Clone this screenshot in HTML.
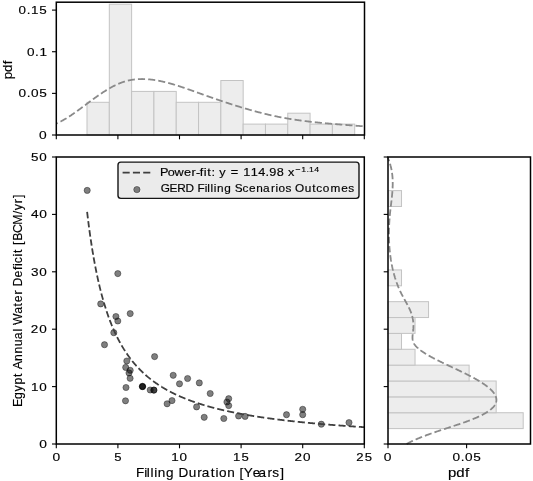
<!DOCTYPE html>
<html><head><meta charset="utf-8"><style>html,body{margin:0;padding:0;background:#fff;}svg{display:block;}</style></head>
<body>
<svg width="533" height="481" viewBox="0 0 533 481" style="will-change:transform">
<rect width="533" height="481" fill="#fff"/>
<rect x="87.00" y="102.30" width="22.31" height="32.70" fill="#ededed" stroke="#c3c3c3" stroke-width="1"/>
<rect x="109.31" y="4.20" width="22.31" height="130.80" fill="#ededed" stroke="#c3c3c3" stroke-width="1"/>
<rect x="131.62" y="91.40" width="22.31" height="43.60" fill="#ededed" stroke="#c3c3c3" stroke-width="1"/>
<rect x="153.93" y="91.40" width="22.31" height="43.60" fill="#ededed" stroke="#c3c3c3" stroke-width="1"/>
<rect x="176.23" y="102.30" width="22.31" height="32.70" fill="#ededed" stroke="#c3c3c3" stroke-width="1"/>
<rect x="198.54" y="102.30" width="22.31" height="32.70" fill="#ededed" stroke="#c3c3c3" stroke-width="1"/>
<rect x="220.85" y="80.50" width="22.31" height="54.50" fill="#ededed" stroke="#c3c3c3" stroke-width="1"/>
<rect x="243.16" y="124.10" width="22.31" height="10.90" fill="#ededed" stroke="#c3c3c3" stroke-width="1"/>
<rect x="265.47" y="124.10" width="22.31" height="10.90" fill="#ededed" stroke="#c3c3c3" stroke-width="1"/>
<rect x="287.77" y="113.20" width="22.31" height="21.80" fill="#ededed" stroke="#c3c3c3" stroke-width="1"/>
<rect x="310.08" y="124.10" width="22.31" height="10.90" fill="#ededed" stroke="#c3c3c3" stroke-width="1"/>
<rect x="332.39" y="124.10" width="22.31" height="10.90" fill="#ededed" stroke="#c3c3c3" stroke-width="1"/>
<path d="M56.30,123.65 L56.74,123.46 L57.18,123.26 L57.62,123.05 L57.77,122.98M60.49,121.64 L60.71,121.53 L61.15,121.30 L61.59,121.06 L62.03,120.82 L62.47,120.58 L62.91,120.34 L63.35,120.09 L63.80,119.83 L64.24,119.58 L64.68,119.32 L65.12,119.06 L65.56,118.80 L66.00,118.53 L66.44,118.26 L66.51,118.21M69.05,116.61 L69.09,116.59 L69.53,116.30 L69.97,116.01 L70.41,115.72 L70.85,115.42 L71.29,115.13 L71.73,114.83 L72.17,114.53 L72.61,114.23 L73.05,113.92 L73.50,113.62 L73.94,113.31 L74.38,113.00 L74.73,112.75M77.16,111.02 L77.46,110.80 L77.90,110.48 L78.35,110.16 L78.79,109.84 L79.23,109.51 L79.67,109.19 L80.11,108.86 L80.55,108.54 L80.99,108.21 L81.43,107.89 L81.87,107.56 L82.31,107.23 L82.68,106.96M85.06,105.18 L85.40,104.93 L85.84,104.60 L86.28,104.27 L86.72,103.94 L87.16,103.61 L87.61,103.28 L88.05,102.95 L88.49,102.63 L88.93,102.30 L89.37,101.97 L89.81,101.64 L90.25,101.32 L90.55,101.10M92.95,99.34 L93.34,99.06 L93.78,98.74 L94.22,98.42 L94.66,98.10 L95.10,97.78 L95.54,97.47 L95.98,97.15 L96.42,96.84 L96.86,96.53 L97.31,96.22 L97.75,95.91 L98.19,95.60 L98.54,95.36M101.00,93.67 L101.27,93.49 L101.71,93.20 L102.16,92.90 L102.60,92.61 L103.04,92.32 L103.48,92.04 L103.92,91.75 L104.36,91.47 L104.80,91.19 L105.24,90.91 L105.68,90.63 L106.12,90.36 L106.56,90.09 L106.80,89.94M109.39,88.41 L109.65,88.25 L110.09,88.00 L110.53,87.75 L110.97,87.51 L111.41,87.27 L111.86,87.03 L112.30,86.79 L112.74,86.55 L113.18,86.32 L113.62,86.10 L114.06,85.87 L114.50,85.65 L114.94,85.43 L115.38,85.21 L115.53,85.15M118.29,83.88 L118.47,83.80 L118.91,83.62 L119.35,83.43 L119.79,83.25 L120.23,83.08 L120.67,82.90 L121.11,82.74 L121.56,82.57 L122.00,82.41 L122.44,82.25 L122.88,82.10 L123.32,81.95 L123.76,81.81 L124.20,81.67 L124.64,81.53 L124.89,81.46M127.85,80.66 L128.17,80.58 L128.61,80.48 L129.05,80.38 L129.49,80.29 L129.93,80.20 L130.37,80.11 L130.81,80.03 L131.26,79.95 L131.70,79.87 L132.14,79.80 L132.58,79.73 L133.02,79.66 L133.46,79.60 L133.90,79.54 L134.34,79.49 L134.78,79.43 L134.85,79.43M137.94,79.15 L138.31,79.13 L138.75,79.11 L139.19,79.09 L139.63,79.07 L140.07,79.05 L140.51,79.04 L140.96,79.03 L141.40,79.03 L141.84,79.02 L142.28,79.02 L142.72,79.03 L143.16,79.03 L143.60,79.04 L144.04,79.05 L144.48,79.06 L144.92,79.08 L145.07,79.08M148.16,79.28 L148.45,79.30 L148.89,79.34 L149.33,79.38 L149.77,79.42 L150.22,79.47 L150.66,79.52 L151.10,79.57 L151.54,79.62 L151.98,79.67 L152.42,79.73 L152.86,79.79 L153.30,79.85 L153.74,79.91 L154.18,79.98 L154.62,80.05 L155.07,80.12 L155.23,80.14M158.27,80.68 L158.59,80.74 L159.03,80.82 L159.47,80.91 L159.92,81.00 L160.36,81.09 L160.80,81.18 L161.24,81.28 L161.68,81.37 L162.12,81.47 L162.56,81.57 L163.00,81.67 L163.44,81.77 L163.88,81.87 L164.32,81.98 L164.77,82.09 L165.20,82.19M168.18,82.95 L168.29,82.98 L168.73,83.10 L169.17,83.22 L169.62,83.34 L170.06,83.46 L170.50,83.58 L170.94,83.71 L171.38,83.83 L171.82,83.96 L172.26,84.09 L172.70,84.22 L173.14,84.34 L173.58,84.48 L174.02,84.61 L174.47,84.74 L174.91,84.87 L174.98,84.90M177.91,85.81 L177.99,85.83 L178.43,85.97 L178.87,86.11 L179.32,86.26 L179.76,86.40 L180.20,86.54 L180.64,86.69 L181.08,86.83 L181.52,86.98 L181.96,87.13 L182.40,87.27 L182.84,87.42 L183.28,87.57 L183.72,87.72 L184.17,87.87 L184.61,88.02M187.50,89.02 L187.69,89.09 L188.13,89.24 L188.57,89.39 L189.02,89.55 L189.46,89.70 L189.90,89.86 L190.34,90.02 L190.78,90.17 L191.22,90.33 L191.66,90.49 L192.10,90.64 L192.54,90.80 L192.98,90.96 L193.42,91.11 L193.87,91.27 L194.14,91.37M197.01,92.40 L197.39,92.54 L197.83,92.70 L198.27,92.86 L198.72,93.01 L199.16,93.17 L199.60,93.33 L200.04,93.49 L200.48,93.65 L200.92,93.81 L201.36,93.96 L201.80,94.12 L202.24,94.28 L202.68,94.44 L203.12,94.59 L203.57,94.75 L203.64,94.78M206.52,95.80 L206.65,95.85 L207.09,96.00 L207.53,96.16 L207.97,96.31 L208.42,96.47 L208.86,96.62 L209.30,96.78 L209.74,96.93 L210.18,97.09 L210.62,97.24 L211.06,97.40 L211.50,97.55 L211.94,97.71 L212.38,97.86 L212.83,98.01 L213.17,98.13M216.06,99.13 L216.35,99.23 L216.79,99.39 L217.23,99.54 L217.68,99.69 L218.12,99.84 L218.56,99.99 L219.00,100.14 L219.44,100.29 L219.88,100.44 L220.32,100.59 L220.76,100.74 L221.20,100.89 L221.64,101.04 L222.08,101.19 L222.53,101.33 L222.73,101.40M225.64,102.37 L226.05,102.51 L226.49,102.66 L226.93,102.80 L227.38,102.95 L227.82,103.09 L228.26,103.23 L228.70,103.38 L229.14,103.52 L229.58,103.67 L230.02,103.81 L230.46,103.95 L230.90,104.09 L231.34,104.24 L231.78,104.38 L232.23,104.52 L232.34,104.56M235.26,105.49 L235.31,105.50 L235.75,105.64 L236.19,105.78 L236.63,105.91 L237.08,106.05 L237.52,106.19 L237.96,106.33 L238.40,106.46 L238.84,106.60 L239.28,106.73 L239.72,106.87 L240.16,107.00 L240.60,107.14 L241.04,107.27 L241.48,107.41 L241.93,107.54 L242.01,107.57M244.96,108.44 L245.01,108.46 L245.45,108.59 L245.89,108.72 L246.33,108.85 L246.78,108.98 L247.22,109.10 L247.66,109.23 L248.10,109.36 L248.54,109.48 L248.98,109.61 L249.42,109.74 L249.86,109.86 L250.30,109.99 L250.74,110.11 L251.18,110.23 L251.63,110.36 L251.75,110.39M254.72,111.21 L255.15,111.33 L255.59,111.44 L256.03,111.56 L256.48,111.68 L256.92,111.80 L257.36,111.91 L257.80,112.03 L258.24,112.15 L258.68,112.26 L259.12,112.38 L259.56,112.49 L260.00,112.60 L260.44,112.72 L260.88,112.83 L261.33,112.94 L261.56,113.00M264.55,113.74 L264.85,113.82 L265.29,113.92 L265.73,114.03 L266.18,114.14 L266.62,114.24 L267.06,114.35 L267.50,114.45 L267.94,114.55 L268.38,114.66 L268.82,114.76 L269.26,114.86 L269.70,114.96 L270.14,115.06 L270.58,115.16 L271.03,115.26 L271.46,115.36M274.47,116.01 L274.55,116.03 L274.99,116.12 L275.44,116.21 L275.88,116.31 L276.32,116.40 L276.76,116.49 L277.20,116.58 L277.64,116.67 L278.08,116.76 L278.52,116.84 L278.96,116.93 L279.40,117.02 L279.84,117.11 L280.29,117.19 L280.73,117.28 L281.17,117.36 L281.43,117.41M284.47,117.97 L284.69,118.01 L285.14,118.09 L285.58,118.17 L286.02,118.24 L286.46,118.32 L286.90,118.40 L287.34,118.47 L287.78,118.55 L288.22,118.62 L288.66,118.70 L289.10,118.77 L289.54,118.84 L289.99,118.92 L290.43,118.99 L290.87,119.06 L291.31,119.13 L291.48,119.16M294.54,119.63 L294.84,119.67 L295.28,119.74 L295.72,119.81 L296.16,119.87 L296.60,119.93 L297.04,120.00 L297.48,120.06 L297.92,120.12 L298.36,120.19 L298.80,120.25 L299.24,120.31 L299.69,120.37 L300.13,120.43 L300.57,120.49 L301.01,120.55 L301.45,120.61 L301.58,120.63M304.65,121.03 L304.98,121.07 L305.42,121.12 L305.86,121.18 L306.30,121.23 L306.74,121.29 L307.18,121.34 L307.62,121.39 L308.06,121.45 L308.50,121.50 L308.94,121.55 L309.39,121.60 L309.83,121.65 L310.27,121.70 L310.71,121.76 L311.15,121.81 L311.59,121.86 L311.73,121.87M314.80,122.21 L315.12,122.24 L315.56,122.29 L316.00,122.33 L316.44,122.38 L316.88,122.43 L317.32,122.47 L317.76,122.52 L318.20,122.56 L318.64,122.61 L319.09,122.65 L319.53,122.70 L319.97,122.74 L320.41,122.78 L320.85,122.83 L321.29,122.87 L321.73,122.91 L321.89,122.93M324.98,123.22 L325.26,123.24 L325.70,123.28 L326.14,123.32 L326.58,123.36 L327.02,123.40 L327.46,123.44 L327.90,123.48 L328.34,123.52 L328.79,123.56 L329.23,123.60 L329.67,123.64 L330.11,123.67 L330.55,123.71 L330.99,123.75 L331.43,123.79 L331.87,123.83 L332.08,123.84M335.16,124.10 L335.40,124.12 L335.84,124.16 L336.28,124.19 L336.72,124.23 L337.16,124.26 L337.60,124.30 L338.05,124.33 L338.49,124.37 L338.93,124.41 L339.37,124.44 L339.81,124.48 L340.25,124.51 L340.69,124.55 L341.13,124.58 L341.57,124.61 L342.01,124.65 L342.27,124.67M345.36,124.91 L345.54,124.92 L345.98,124.96 L346.42,124.99 L346.86,125.02 L347.30,125.06 L347.75,125.09 L348.19,125.13 L348.63,125.16 L349.07,125.19 L349.51,125.23 L349.95,125.26 L350.39,125.29 L350.83,125.33 L351.27,125.36 L351.71,125.40 L352.15,125.43 L352.47,125.45M355.56,125.69 L355.68,125.70 L356.12,125.73 L356.56,125.77 L357.00,125.80 L357.45,125.84 L357.89,125.87 L358.33,125.90 L358.77,125.94 L359.21,125.97 L359.65,126.01 L360.09,126.04 L360.53,126.08 L360.97,126.11 L361.41,126.15 L361.85,126.18 L362.30,126.22 L362.67,126.25" fill="none" stroke="#8a8a8a" stroke-width="1.8"/>
<rect x="388.00" y="412.73" width="135.20" height="15.87" fill="#ededed" stroke="#c3c3c3" stroke-width="1"/>
<rect x="388.00" y="396.87" width="108.16" height="15.87" fill="#ededed" stroke="#c3c3c3" stroke-width="1"/>
<rect x="388.00" y="381.00" width="108.16" height="15.87" fill="#ededed" stroke="#c3c3c3" stroke-width="1"/>
<rect x="388.00" y="365.13" width="81.12" height="15.87" fill="#ededed" stroke="#c3c3c3" stroke-width="1"/>
<rect x="388.00" y="349.27" width="27.04" height="15.87" fill="#ededed" stroke="#c3c3c3" stroke-width="1"/>
<rect x="388.00" y="333.40" width="13.52" height="15.87" fill="#ededed" stroke="#c3c3c3" stroke-width="1"/>
<rect x="388.00" y="317.53" width="27.04" height="15.87" fill="#ededed" stroke="#c3c3c3" stroke-width="1"/>
<rect x="388.00" y="301.67" width="40.56" height="15.87" fill="#ededed" stroke="#c3c3c3" stroke-width="1"/>
<rect x="388.00" y="269.93" width="13.52" height="15.87" fill="#ededed" stroke="#c3c3c3" stroke-width="1"/>
<rect x="388.00" y="190.60" width="13.52" height="15.87" fill="#ededed" stroke="#c3c3c3" stroke-width="1"/>
<path d="M387.38,157.00 L387.57,157.41 L387.76,157.82 L387.94,158.23 L388.12,158.64 L388.29,159.05 L388.46,159.46 L388.62,159.87 L388.79,160.28 L388.94,160.70 L389.10,161.11 L389.12,161.18M390.03,163.84 L390.07,163.98 L390.19,164.39 L390.32,164.80 L390.43,165.21 L390.55,165.62 L390.66,166.03 L390.77,166.44 L390.87,166.85 L390.97,167.26 L391.07,167.68 L391.16,168.09 L391.25,168.50 L391.34,168.91 L391.43,169.32 L391.51,169.73 L391.58,170.08M392.03,172.83 L392.06,173.01 L392.11,173.42 L392.17,173.83 L392.22,174.24 L392.27,174.66 L392.31,175.07 L392.35,175.48 L392.39,175.89 L392.43,176.30 L392.47,176.71 L392.50,177.12 L392.53,177.53 L392.56,177.94 L392.58,178.35 L392.61,178.76 L392.63,179.17 L392.63,179.21M392.72,181.98 L392.72,182.05 L392.72,182.46 L392.72,182.87 L392.72,183.28 L392.72,183.69 L392.72,184.10 L392.71,184.51 L392.71,184.92 L392.70,185.33 L392.69,185.74 L392.68,186.15 L392.66,186.56 L392.65,186.97 L392.63,187.38 L392.62,187.79 L392.60,188.20 L392.59,188.38M392.42,191.16 L392.39,191.49 L392.36,191.90 L392.33,192.31 L392.30,192.72 L392.26,193.13 L392.23,193.54 L392.19,193.95 L392.15,194.36 L392.11,194.77 L392.08,195.18 L392.04,195.60 L391.99,196.01 L391.95,196.42 L391.91,196.83 L391.87,197.24 L391.84,197.54M391.53,200.30 L391.50,200.52 L391.46,200.93 L391.41,201.34 L391.36,201.75 L391.31,202.16 L391.26,202.58 L391.22,202.99 L391.17,203.40 L391.12,203.81 L391.07,204.22 L391.02,204.63 L390.97,205.04 L390.92,205.45 L390.87,205.86 L390.82,206.27 L390.77,206.67M390.45,209.43 L390.44,209.56 L390.39,209.97 L390.34,210.38 L390.30,210.79 L390.25,211.20 L390.21,211.61 L390.16,212.02 L390.12,212.43 L390.08,212.84 L390.03,213.25 L389.99,213.66 L389.95,214.07 L389.91,214.48 L389.87,214.89 L389.83,215.30 L389.80,215.71 L389.79,215.80M389.55,218.58 L389.55,218.59 L389.52,219.00 L389.49,219.41 L389.46,219.82 L389.43,220.23 L389.40,220.64 L389.37,221.05 L389.35,221.46 L389.32,221.87 L389.30,222.28 L389.27,222.69 L389.25,223.10 L389.22,223.52 L389.20,223.93 L389.18,224.34 L389.16,224.75 L389.15,224.97M389.04,227.74 L389.03,228.03 L389.01,228.44 L389.00,228.85 L388.99,229.26 L388.98,229.67 L388.97,230.08 L388.96,230.49 L388.96,230.91 L388.95,231.32 L388.95,231.73 L388.94,232.14 L388.94,232.55 L388.93,232.96 L388.93,233.37 L388.93,233.78 L388.93,234.14M388.95,236.92 L388.96,237.06 L388.96,237.47 L388.97,237.89 L388.98,238.30 L388.99,238.71 L389.00,239.12 L389.02,239.53 L389.03,239.94 L389.04,240.35 L389.06,240.76 L389.07,241.17 L389.09,241.58 L389.11,241.99 L389.13,242.40 L389.15,242.81 L389.17,243.22 L389.18,243.32M389.35,246.10 L389.35,246.10 L389.38,246.51 L389.41,246.92 L389.44,247.33 L389.47,247.74 L389.51,248.15 L389.54,248.56 L389.58,248.97 L389.61,249.38 L389.65,249.79 L389.69,250.20 L389.73,250.61 L389.77,251.02 L389.82,251.43 L389.86,251.85 L389.90,252.26 L389.93,252.47M390.26,255.24 L390.30,255.54 L390.36,255.95 L390.41,256.36 L390.47,256.77 L390.53,257.18 L390.59,257.59 L390.65,258.00 L390.71,258.41 L390.77,258.83 L390.83,259.24 L390.90,259.65 L390.97,260.06 L391.03,260.47 L391.10,260.88 L391.17,261.29 L391.22,261.58M391.72,264.32 L391.77,264.57 L391.85,264.98 L391.94,265.39 L392.02,265.81 L392.10,266.22 L392.19,266.63 L392.28,267.04 L392.36,267.45 L392.45,267.86 L392.54,268.27 L392.64,268.68 L392.73,269.09 L392.82,269.50 L392.92,269.91 L393.02,270.32 L393.09,270.60M393.77,273.32 L393.85,273.61 L393.96,274.02 L394.07,274.43 L394.18,274.84 L394.30,275.25 L394.42,275.66 L394.54,276.07 L394.66,276.48 L394.78,276.89 L394.90,277.30 L395.03,277.71 L395.15,278.12 L395.28,278.53 L395.41,278.94 L395.54,279.35 L395.59,279.50M396.50,282.16 L396.52,282.23 L396.67,282.64 L396.82,283.05 L396.97,283.46 L397.12,283.87 L397.27,284.28 L397.43,284.69 L397.59,285.10 L397.75,285.51 L397.91,285.92 L398.08,286.33 L398.24,286.75 L398.41,287.16 L398.58,287.57 L398.76,287.98 L398.85,288.20M400.00,290.78 L400.03,290.85 L400.22,291.26 L400.42,291.67 L400.61,292.08 L400.81,292.49 L401.01,292.90 L401.22,293.31 L401.42,293.73 L401.63,294.14 L401.84,294.55 L402.05,294.96 L402.27,295.37 L402.48,295.78 L402.70,296.19 L402.92,296.60 L402.93,296.62M404.30,299.11 L404.50,299.47 L404.73,299.88 L404.96,300.29 L405.19,300.71 L405.42,301.12 L405.65,301.53 L405.88,301.94 L406.10,302.35 L406.33,302.76 L406.55,303.17 L406.78,303.58 L407.00,303.99 L407.22,304.40 L407.44,304.81 L407.46,304.85M408.77,307.37 L408.92,307.69 L409.12,308.10 L409.32,308.51 L409.51,308.92 L409.70,309.33 L409.89,309.74 L410.07,310.15 L410.25,310.56 L410.42,310.97 L410.59,311.38 L410.75,311.79 L410.91,312.20 L411.07,312.61 L411.22,313.02 L411.33,313.34M412.15,316.02 L412.23,316.31 L412.33,316.72 L412.43,317.13 L412.52,317.54 L412.61,317.95 L412.70,318.36 L412.77,318.77 L412.85,319.18 L412.92,319.59 L412.98,320.00 L413.04,320.41 L413.10,320.82 L413.15,321.23 L413.20,321.65 L413.24,322.06 L413.26,322.34M413.41,325.11 L413.42,325.34 L413.42,325.75 L413.42,326.16 L413.42,326.57 L413.41,326.98 L413.40,327.39 L413.38,327.80 L413.36,328.21 L413.34,328.63 L413.31,329.04 L413.28,329.45 L413.24,329.86 L413.20,330.27 L413.16,330.68 L413.12,331.09 L413.07,331.50 L413.07,331.50M412.71,334.26 L412.70,334.37 L412.65,334.78 L412.61,335.19 L412.57,335.61 L412.54,336.02 L412.51,336.43 L412.50,336.84 L412.49,337.25 L412.49,337.66 L412.49,338.07 L412.51,338.48 L412.55,338.89 L412.59,339.30 L412.65,339.71 L412.72,340.12 L412.81,340.53 L412.83,340.63M413.83,343.26 L413.90,343.41 L414.14,343.82 L414.40,344.23 L414.68,344.64 L414.98,345.05 L415.30,345.46 L415.64,345.87 L416.01,346.28 L416.39,346.69 L416.79,347.10 L417.21,347.51 L417.65,347.92 L418.11,348.33 L418.11,348.34M420.41,350.20 L420.65,350.39 L421.20,350.80 L421.78,351.21 L422.36,351.62 L422.97,352.03 L423.58,352.44 L424.21,352.85 L424.86,353.26 L425.51,353.67 L426.11,354.04M428.70,355.57 L428.98,355.72 L429.71,356.13 L430.45,356.55 L431.19,356.96 L431.95,357.37 L432.72,357.78 L433.49,358.19 L434.28,358.60 L434.81,358.87M437.51,360.25 L438.31,360.65 L439.14,361.06 L439.97,361.47 L440.81,361.88 L441.65,362.29 L442.50,362.70 L443.35,363.11 L443.77,363.31M446.51,364.62 L446.80,364.76 L447.67,365.17 L448.54,365.58 L449.41,365.99 L450.28,366.40 L451.15,366.81 L452.03,367.22 L452.83,367.59M455.57,368.89 L456.39,369.27 L457.26,369.68 L458.13,370.09 L458.99,370.51 L459.85,370.92 L460.71,371.33 L461.56,371.74 L461.87,371.89M464.60,373.21 L464.93,373.38 L465.76,373.79 L466.59,374.20 L467.40,374.61 L468.21,375.02 L469.02,375.43 L469.81,375.84 L470.60,376.25 L470.81,376.36M473.47,377.79 L473.67,377.90 L474.42,378.31 L475.16,378.72 L475.89,379.13 L476.61,379.54 L477.32,379.95 L478.02,380.36 L478.71,380.77 L479.39,381.18 L479.48,381.24M482.02,382.83 L482.64,383.23 L483.26,383.64 L483.86,384.05 L484.46,384.46 L485.04,384.88 L485.61,385.29 L486.17,385.70 L486.71,386.11 L487.25,386.52 L487.61,386.81M489.87,388.71 L490.17,388.98 L490.61,389.39 L491.03,389.80 L491.44,390.21 L491.84,390.62 L492.22,391.03 L492.58,391.44 L492.93,391.86 L493.27,392.27 L493.59,392.68 L493.89,393.09 L494.18,393.50 L494.31,393.70M495.65,396.20 L495.72,396.37 L495.87,396.78 L496.00,397.19 L496.12,397.60 L496.22,398.01 L496.29,398.42 L496.35,398.84 L496.40,399.25 L496.42,399.66 L496.42,400.07 L496.40,400.48 L496.37,400.89 L496.31,401.30 L496.23,401.71 L496.13,402.12 L496.03,402.48M494.84,405.04 L494.60,405.40 L494.31,405.82 L494.00,406.23 L493.66,406.64 L493.31,407.05 L492.93,407.46 L492.52,407.87 L492.10,408.28 L491.65,408.69 L491.18,409.10 L490.68,409.51 L490.22,409.88M487.80,411.62 L487.26,411.97 L486.61,412.38 L485.94,412.80 L485.24,413.21 L484.53,413.62 L483.79,414.03 L483.04,414.44 L482.26,414.85 L481.80,415.08M479.08,416.42 L478.93,416.49 L478.05,416.90 L477.14,417.31 L476.22,417.72 L475.27,418.13 L474.30,418.54 L473.31,418.95 L472.67,419.22M469.83,420.34 L469.16,420.60 L468.07,421.01 L466.96,421.42 L465.83,421.83 L464.68,422.24 L463.52,422.65 L463.22,422.75M460.33,423.75 L459.94,423.88 L458.72,424.29 L457.49,424.70 L456.25,425.11 L455.01,425.52 L453.76,425.93 L453.64,425.97M450.73,426.93 L450.00,427.17 L448.74,427.58 L447.49,427.99 L446.24,428.40 L444.99,428.81 L444.03,429.13M441.12,430.10 L440.06,430.45 L438.84,430.86 L437.63,431.27 L436.43,431.68 L435.24,432.09 L434.45,432.37M431.56,433.38 L430.55,433.74 L429.41,434.15 L428.28,434.56 L427.15,434.97 L426.05,435.38 L424.95,435.79M422.10,436.88 L421.75,437.02 L420.71,437.43 L419.68,437.84 L418.68,438.25 L417.69,438.66 L416.71,439.07 L415.76,439.48 L415.61,439.55M412.84,440.79 L412.12,441.13 L411.26,441.54 L410.42,441.95 L409.61,442.36 L408.81,442.77 L408.04,443.18 L407.29,443.59 L406.64,443.95" fill="none" stroke="#8a8a8a" stroke-width="1.8"/>
<g fill="#000" fill-opacity="0.5" stroke="#000" stroke-opacity="0.42" stroke-width="0.9">
<circle cx="87.2" cy="190.4" r="3.1"/>
<circle cx="117.8" cy="273.6" r="3.1"/>
<circle cx="100.7" cy="303.9" r="3.1"/>
<circle cx="115.9" cy="316.5" r="3.1"/>
<circle cx="117.8" cy="321" r="3.1"/>
<circle cx="130.2" cy="313.6" r="3.1"/>
<circle cx="113.8" cy="332.7" r="3.1"/>
<circle cx="104.5" cy="344.7" r="3.1"/>
<circle cx="154.6" cy="356.6" r="3.1"/>
<circle cx="126.8" cy="361" r="3.1"/>
<circle cx="125.7" cy="367.4" r="3.1"/>
<circle cx="130.2" cy="370.3" r="3.1"/>
<circle cx="129.0" cy="372.9" r="3.1"/>
<circle cx="130.1" cy="378.3" r="3.1"/>
<circle cx="126.0" cy="387.5" r="3.1"/>
<circle cx="142.5" cy="386.5" r="3.1"/>
<circle cx="142.5" cy="386.5" r="3.1"/>
<circle cx="142.5" cy="386.5" r="3.1"/>
<circle cx="150.2" cy="390" r="3.1"/>
<circle cx="153.9" cy="390.1" r="3.1"/>
<circle cx="153.9" cy="390.1" r="3.1"/>
<circle cx="125.5" cy="400.8" r="3.1"/>
<circle cx="173.2" cy="375.3" r="3.1"/>
<circle cx="179.5" cy="383.8" r="3.1"/>
<circle cx="187.6" cy="378.5" r="3.1"/>
<circle cx="199.3" cy="382.9" r="3.1"/>
<circle cx="210.2" cy="393.5" r="3.1"/>
<circle cx="172" cy="400.6" r="3.1"/>
<circle cx="167.1" cy="403.8" r="3.1"/>
<circle cx="196.6" cy="406.9" r="3.1"/>
<circle cx="228.7" cy="398.7" r="3.1"/>
<circle cx="226.9" cy="402" r="3.1"/>
<circle cx="228.7" cy="405.6" r="3.1"/>
<circle cx="204.2" cy="417.3" r="3.1"/>
<circle cx="223.8" cy="418.5" r="3.1"/>
<circle cx="238.6" cy="416" r="3.1"/>
<circle cx="245.1" cy="416.4" r="3.1"/>
<circle cx="286.5" cy="414.7" r="3.1"/>
<circle cx="302.7" cy="409.3" r="3.1"/>
<circle cx="302.7" cy="414.7" r="3.1"/>
<circle cx="321.3" cy="424.2" r="3.1"/>
<circle cx="349.0" cy="422.6" r="3.1"/>
</g>
<path d="M87.12,211.94 L87.29,213.37 L87.59,215.96 L87.88,218.30M88.22,221.07 L88.52,223.41 L88.83,225.80 L89.04,227.42M89.41,230.18 L89.44,230.42 L89.75,232.66 L90.06,234.86 L90.30,236.53M90.70,239.29 L90.99,241.21 L91.30,243.25 L91.60,245.25 L91.66,245.63M92.10,248.38 L92.22,249.14 L92.53,251.03 L92.84,252.88 L93.15,254.70 L93.15,254.71M93.62,257.46 L93.76,258.25 L94.07,259.98 L94.38,261.68 L94.69,263.35 L94.77,263.78M95.29,266.52 L95.31,266.60 L95.61,268.19 L95.92,269.75 L96.23,271.28 L96.54,272.79 L96.55,272.82M97.12,275.55 L97.16,275.74 L97.47,277.17 L97.77,278.59 L98.08,279.98 L98.39,281.35 L98.50,281.83M99.13,284.55 L99.32,285.33 L99.62,286.62 L99.93,287.89 L100.24,289.13 L100.55,290.36 L100.66,290.80M101.36,293.51 L101.48,293.95 L101.78,295.11 L102.09,296.25 L102.40,297.38 L102.71,298.49 L103.02,299.58 L103.06,299.73M103.84,302.42 L103.94,302.78 L104.25,303.81 L104.56,304.83 L104.87,305.84 L105.18,306.83 L105.49,307.81 L105.73,308.59M106.60,311.26 L106.72,311.61 L107.03,312.52 L107.34,313.43 L107.64,314.32 L107.95,315.21 L108.26,316.08 L108.57,316.94 L108.73,317.37M109.70,320.00 L109.80,320.27 L110.11,321.08 L110.42,321.88 L110.73,322.67 L111.04,323.45 L111.35,324.22 L111.66,324.98 L111.96,325.73 L112.09,326.04M113.19,328.63 L113.20,328.65 L113.51,329.36 L113.81,330.06 L114.12,330.75 L114.43,331.44 L114.74,332.11 L115.05,332.78 L115.36,333.44 L115.67,334.10 L115.89,334.56M117.13,337.11 L117.21,337.27 L117.52,337.88 L117.82,338.49 L118.13,339.09 L118.44,339.68 L118.75,340.27 L119.06,340.85 L119.37,341.42 L119.68,341.99 L119.98,342.55 L120.17,342.89M121.58,345.37 L121.83,345.81 L122.14,346.34 L122.45,346.86 L122.76,347.37 L123.07,347.88 L123.38,348.38 L123.69,348.88 L123.99,349.38 L124.30,349.87 L124.61,350.35 L124.92,350.83 L125.02,350.98M126.60,353.37 L126.77,353.61 L127.08,354.06 L127.39,354.51 L127.70,354.95 L128.00,355.39 L128.31,355.82 L128.62,356.25 L128.93,356.67 L129.24,357.09 L129.55,357.51 L129.86,357.92 L130.16,358.33 L130.47,358.74 L130.48,358.74M132.26,361.02 L132.32,361.10 L132.63,361.48 L132.94,361.86 L133.25,362.24 L133.56,362.61 L133.87,362.98 L134.17,363.34 L134.48,363.71 L134.79,364.07 L135.10,364.42 L135.41,364.78 L135.72,365.13 L136.03,365.47 L136.33,365.82 L136.59,366.10M138.57,368.24 L138.80,368.48 L139.11,368.80 L139.42,369.12 L139.73,369.43 L140.04,369.75 L140.34,370.06 L140.65,370.37 L140.96,370.67 L141.27,370.97 L141.58,371.28 L141.89,371.57 L142.19,371.87 L142.50,372.17 L142.81,372.46 L143.12,372.75 L143.37,372.98M145.55,374.95 L145.59,374.99 L145.90,375.26 L146.20,375.53 L146.51,375.79 L146.82,376.06 L147.13,376.32 L147.44,376.58 L147.75,376.84 L148.06,377.10 L148.36,377.36 L148.67,377.61 L148.98,377.86 L149.29,378.11 L149.60,378.36 L149.91,378.61 L150.22,378.85 L150.52,379.09 L150.79,379.30M153.15,381.10 L153.30,381.21 L153.61,381.43 L153.92,381.66 L154.23,381.88 L154.53,382.11 L154.84,382.33 L155.15,382.55 L155.46,382.76 L155.77,382.98 L156.08,383.19 L156.38,383.41 L156.69,383.62 L157.00,383.83 L157.31,384.04 L157.62,384.25 L157.93,384.46 L158.24,384.66 L158.54,384.87 L158.78,385.02M161.31,386.64 L161.32,386.64 L161.63,386.84 L161.94,387.03 L162.25,387.21 L162.55,387.40 L162.86,387.59 L163.17,387.78 L163.48,387.96 L163.79,388.14 L164.10,388.33 L164.41,388.51 L164.71,388.69 L165.02,388.86 L165.33,389.04 L165.64,389.22 L165.95,389.40 L166.26,389.57 L166.56,389.74 L166.87,389.92 L167.18,390.09 L167.28,390.14M169.93,391.57 L169.96,391.59 L170.27,391.75 L170.57,391.91 L170.88,392.07 L171.19,392.23 L171.50,392.39 L171.81,392.54 L172.12,392.70 L172.43,392.85 L172.73,393.01 L173.04,393.16 L173.35,393.31 L173.66,393.47 L173.97,393.62 L174.28,393.77 L174.59,393.92 L174.89,394.07 L175.20,394.21 L175.51,394.36 L175.82,394.51 L176.13,394.65 L176.18,394.67M178.94,395.94 L179.21,396.06 L179.52,396.20 L179.83,396.33 L180.14,396.47 L180.45,396.60 L180.75,396.74 L181.06,396.87 L181.37,397.00 L181.68,397.13 L181.99,397.27 L182.30,397.40 L182.61,397.53 L182.91,397.66 L183.22,397.78 L183.53,397.91 L183.84,398.04 L184.15,398.16 L184.46,398.29 L184.76,398.42 L185.07,398.54 L185.38,398.66 L185.39,398.67M188.23,399.78 L188.47,399.87 L188.78,399.99 L189.08,400.10 L189.39,400.22 L189.70,400.33 L190.01,400.45 L190.32,400.56 L190.63,400.68 L190.93,400.79 L191.24,400.90 L191.55,401.01 L191.86,401.13 L192.17,401.24 L192.48,401.35 L192.79,401.46 L193.09,401.57 L193.40,401.67 L193.71,401.78 L194.02,401.89 L194.33,402.00 L194.64,402.10 L194.85,402.18M197.75,403.15 L198.03,403.25 L198.34,403.35 L198.65,403.45 L198.95,403.55 L199.26,403.65 L199.57,403.75 L199.88,403.84 L200.19,403.94 L200.50,404.04 L200.81,404.14 L201.11,404.23 L201.42,404.33 L201.73,404.43 L202.04,404.52 L202.35,404.62 L202.66,404.71 L202.97,404.81 L203.27,404.90 L203.58,404.99 L203.89,405.09 L204.20,405.18 L204.49,405.26M207.43,406.12 L207.59,406.17 L207.90,406.26 L208.21,406.34 L208.52,406.43 L208.83,406.52 L209.13,406.60 L209.44,406.69 L209.75,406.78 L210.06,406.86 L210.37,406.95 L210.68,407.03 L210.99,407.11 L211.29,407.20 L211.60,407.28 L211.91,407.36 L212.22,407.45 L212.53,407.53 L212.84,407.61 L213.14,407.69 L213.45,407.77 L213.76,407.85 L214.07,407.94 L214.26,407.99M217.24,408.74 L217.46,408.80 L217.77,408.88 L218.08,408.95 L218.39,409.03 L218.70,409.10 L219.01,409.18 L219.31,409.26 L219.62,409.33 L219.93,409.40 L220.24,409.48 L220.55,409.55 L220.86,409.63 L221.17,409.70 L221.47,409.77 L221.78,409.85 L222.09,409.92 L222.40,409.99 L222.71,410.06 L223.02,410.13 L223.32,410.20 L223.63,410.28 L223.94,410.35 L224.14,410.39M227.15,411.06 L227.34,411.11 L227.64,411.17 L227.95,411.24 L228.26,411.31 L228.57,411.37 L228.88,411.44 L229.19,411.51 L229.49,411.57 L229.80,411.64 L230.11,411.70 L230.42,411.77 L230.73,411.83 L231.04,411.90 L231.35,411.96 L231.65,412.03 L231.96,412.09 L232.27,412.16 L232.58,412.22 L232.89,412.28 L233.20,412.35 L233.50,412.41 L233.81,412.47 L234.09,412.53M237.12,413.13 L237.21,413.14 L237.51,413.20 L237.82,413.26 L238.13,413.32 L238.44,413.38 L238.75,413.44 L239.06,413.50 L239.37,413.56 L239.67,413.62 L239.98,413.68 L240.29,413.73 L240.60,413.79 L240.91,413.85 L241.22,413.91 L241.53,413.96 L241.83,414.02 L242.14,414.08 L242.45,414.13 L242.76,414.19 L243.07,414.25 L243.38,414.30 L243.68,414.36 L243.99,414.41 L244.11,414.43M247.15,414.97 L247.39,415.01 L247.69,415.06 L248.00,415.12 L248.31,415.17 L248.62,415.22 L248.93,415.28 L249.24,415.33 L249.55,415.38 L249.85,415.43 L250.16,415.48 L250.47,415.54 L250.78,415.59 L251.09,415.64 L251.40,415.69 L251.70,415.74 L252.01,415.79 L252.32,415.84 L252.63,415.89 L252.94,415.94 L253.25,415.99 L253.56,416.04 L253.86,416.09 L254.16,416.14M257.22,416.62 L257.26,416.63 L257.57,416.68 L257.87,416.72 L258.18,416.77 L258.49,416.82 L258.80,416.87 L259.11,416.91 L259.42,416.96 L259.73,417.01 L260.03,417.05 L260.34,417.10 L260.65,417.15 L260.96,417.19 L261.27,417.24 L261.58,417.28 L261.88,417.33 L262.19,417.38 L262.50,417.42 L262.81,417.47 L263.12,417.51 L263.43,417.56 L263.74,417.60 L264.04,417.65 L264.25,417.68M267.32,418.11 L267.44,418.13 L267.75,418.17 L268.05,418.21 L268.36,418.26 L268.67,418.30 L268.98,418.34 L269.29,418.38 L269.60,418.43 L269.91,418.47 L270.21,418.51 L270.52,418.55 L270.83,418.59 L271.14,418.64 L271.45,418.68 L271.76,418.72 L272.06,418.76 L272.37,418.80 L272.68,418.84 L272.99,418.88 L273.30,418.92 L273.61,418.96 L273.92,419.00 L274.22,419.04 L274.37,419.06M277.44,419.46 L277.62,419.48 L277.93,419.52 L278.23,419.56 L278.54,419.60 L278.85,419.64 L279.16,419.67 L279.47,419.71 L279.78,419.75 L280.09,419.79 L280.39,419.83 L280.70,419.86 L281.01,419.90 L281.32,419.94 L281.63,419.98 L281.94,420.01 L282.24,420.05 L282.55,420.09 L282.86,420.13 L283.17,420.16 L283.48,420.20 L283.79,420.24 L284.10,420.27 L284.40,420.31 L284.51,420.32M287.58,420.68 L287.80,420.71 L288.11,420.74 L288.41,420.78 L288.72,420.81 L289.03,420.85 L289.34,420.88 L289.65,420.92 L289.96,420.95 L290.26,420.99 L290.57,421.02 L290.88,421.05 L291.19,421.09 L291.50,421.12 L291.81,421.16 L292.12,421.19 L292.42,421.23 L292.73,421.26 L293.04,421.29 L293.35,421.33 L293.66,421.36 L293.97,421.39 L294.28,421.43 L294.58,421.46 L294.67,421.47M297.74,421.80 L297.98,421.82 L298.29,421.85 L298.59,421.89 L298.90,421.92 L299.21,421.95 L299.52,421.98 L299.83,422.01 L300.14,422.04 L300.44,422.08 L300.75,422.11 L301.06,422.14 L301.37,422.17 L301.68,422.20 L301.99,422.23 L302.30,422.26 L302.60,422.30 L302.91,422.33 L303.22,422.36 L303.53,422.39 L303.84,422.42 L304.15,422.45 L304.45,422.48 L304.76,422.51 L304.83,422.52M307.92,422.82 L308.16,422.84 L308.47,422.87 L308.77,422.90 L309.08,422.93 L309.39,422.96 L309.70,422.99 L310.01,423.02 L310.32,423.04 L310.62,423.07 L310.93,423.10 L311.24,423.13 L311.55,423.16 L311.86,423.19 L312.17,423.22 L312.48,423.25 L312.78,423.27 L313.09,423.30 L313.40,423.33 L313.71,423.36 L314.02,423.39 L314.33,423.42 L314.63,423.44 L314.94,423.47 L315.01,423.48M318.10,423.75 L318.34,423.77 L318.65,423.80 L318.95,423.83 L319.26,423.86 L319.57,423.88 L319.88,423.91 L320.19,423.94 L320.50,423.96 L320.80,423.99 L321.11,424.02 L321.42,424.04 L321.73,424.07 L322.04,424.10 L322.35,424.12 L322.66,424.15 L322.96,424.17 L323.27,424.20 L323.58,424.23 L323.89,424.25 L324.20,424.28 L324.51,424.30 L324.81,424.33 L325.12,424.36 L325.20,424.36M328.29,424.62 L328.52,424.63 L328.82,424.66 L329.13,424.68 L329.44,424.71 L329.75,424.73 L330.06,424.76 L330.37,424.78 L330.68,424.81 L330.98,424.83 L331.29,424.86 L331.60,424.88 L331.91,424.91 L332.22,424.93 L332.53,424.95 L332.84,424.98 L333.14,425.00 L333.45,425.03 L333.76,425.05 L334.07,425.08 L334.38,425.10 L334.69,425.12 L334.99,425.15 L335.30,425.17 L335.40,425.18M338.49,425.41 L338.70,425.43 L339.00,425.45 L339.31,425.47 L339.62,425.50 L339.93,425.52 L340.24,425.54 L340.55,425.57 L340.86,425.59 L341.16,425.61 L341.47,425.63 L341.78,425.66 L342.09,425.68 L342.40,425.70 L342.71,425.72 L343.01,425.75 L343.32,425.77 L343.63,425.79 L343.94,425.81 L344.25,425.84 L344.56,425.86 L344.87,425.88 L345.17,425.90 L345.48,425.92 L345.60,425.93M348.69,426.15 L348.88,426.16 L349.18,426.18 L349.49,426.21 L349.80,426.23 L350.11,426.25 L350.42,426.27 L350.73,426.29 L351.04,426.31 L351.34,426.33 L351.65,426.35 L351.96,426.38 L352.27,426.40 L352.58,426.42 L352.89,426.44 L353.19,426.46 L353.50,426.48 L353.81,426.50 L354.12,426.52 L354.43,426.54 L354.74,426.56 L355.05,426.58 L355.35,426.60 L355.66,426.62 L355.80,426.63M358.90,426.83 L359.06,426.85 L359.36,426.87 L359.67,426.88 L359.98,426.90 L360.29,426.92 L360.60,426.94 L360.91,426.96 L361.22,426.98 L361.52,427.00 L361.83,427.02 L362.14,427.04 L362.45,427.06 L362.76,427.08 L363.07,427.10 L363.37,427.12 L363.68,427.14 L363.99,427.16 L364.30,427.18" fill="none" stroke="#3f3f3f" stroke-width="1.8"/>
<rect x="56.3" y="2.2" width="308.20" height="132.80" fill="none" stroke="#000" stroke-width="1.5"/>
<rect x="56.3" y="157.0" width="308.00" height="287.00" fill="none" stroke="#000" stroke-width="1.5"/>
<rect x="388.0" y="157.0" width="142.50" height="287.00" fill="none" stroke="#000" stroke-width="1.5"/>
<g stroke="#000" stroke-width="1.1">
<line x1="52.00" y1="135.00" x2="56.30" y2="135.00"/>
<line x1="52.00" y1="93.37" x2="56.30" y2="93.37"/>
<line x1="52.00" y1="51.73" x2="56.30" y2="51.73"/>
<line x1="52.00" y1="10.10" x2="56.30" y2="10.10"/>
<line x1="56.30" y1="135.00" x2="56.30" y2="139.30"/>
<line x1="56.30" y1="444.00" x2="56.30" y2="448.30"/>
<line x1="52.00" y1="444.00" x2="56.30" y2="444.00"/>
<line x1="383.70" y1="444.00" x2="388.00" y2="444.00"/>
<line x1="117.90" y1="135.00" x2="117.90" y2="139.30"/>
<line x1="117.90" y1="444.00" x2="117.90" y2="448.30"/>
<line x1="52.00" y1="386.60" x2="56.30" y2="386.60"/>
<line x1="383.70" y1="386.60" x2="388.00" y2="386.60"/>
<line x1="179.50" y1="135.00" x2="179.50" y2="139.30"/>
<line x1="179.50" y1="444.00" x2="179.50" y2="448.30"/>
<line x1="52.00" y1="329.20" x2="56.30" y2="329.20"/>
<line x1="383.70" y1="329.20" x2="388.00" y2="329.20"/>
<line x1="241.10" y1="135.00" x2="241.10" y2="139.30"/>
<line x1="241.10" y1="444.00" x2="241.10" y2="448.30"/>
<line x1="52.00" y1="271.80" x2="56.30" y2="271.80"/>
<line x1="383.70" y1="271.80" x2="388.00" y2="271.80"/>
<line x1="302.70" y1="135.00" x2="302.70" y2="139.30"/>
<line x1="302.70" y1="444.00" x2="302.70" y2="448.30"/>
<line x1="52.00" y1="214.40" x2="56.30" y2="214.40"/>
<line x1="383.70" y1="214.40" x2="388.00" y2="214.40"/>
<line x1="364.30" y1="135.00" x2="364.30" y2="139.30"/>
<line x1="364.30" y1="444.00" x2="364.30" y2="448.30"/>
<line x1="52.00" y1="157.00" x2="56.30" y2="157.00"/>
<line x1="383.70" y1="157.00" x2="388.00" y2="157.00"/>
<line x1="388.00" y1="444.00" x2="388.00" y2="448.30"/>
<line x1="466.60" y1="444.00" x2="466.60" y2="448.30"/>
</g>
<text font-family="Liberation Sans, sans-serif" font-size="11.7" fill="#000" stroke="#000" stroke-width="0.15" x="33.14" y="0" transform="translate(0,139.09) scale(1.1780,1)">0</text>
<text font-family="Liberation Sans, sans-serif" font-size="11.7" fill="#000" stroke="#000" stroke-width="0.15" x="15.91 22.94 26.65 33.78" y="0" transform="translate(0,97.46) scale(1.1636,1)">0.05</text>
<text font-family="Liberation Sans, sans-serif" font-size="11.7" fill="#000" stroke="#000" stroke-width="0.15" x="23.24 30.30 34.00" y="0" transform="translate(0,55.83) scale(1.1585,1)">0.1</text>
<text font-family="Liberation Sans, sans-serif" font-size="11.7" fill="#000" stroke="#000" stroke-width="0.15" x="16.20 23.31 27.07 34.35" y="0" transform="translate(0,14.19) scale(1.1460,1)">0.15</text>
<text font-family="Liberation Sans, sans-serif" font-size="11.7" fill="#000" stroke="#000" stroke-width="0.15" x="33.31" y="0" transform="translate(0,448.10) scale(1.1780,1)">0</text>
<text font-family="Liberation Sans, sans-serif" font-size="11.7" fill="#000" stroke="#000" stroke-width="0.15" x="44.52" y="0" transform="translate(0,461.00) scale(1.1780,1)">0</text>
<text font-family="Liberation Sans, sans-serif" font-size="11.7" fill="#000" stroke="#000" stroke-width="0.15" x="26.91 34.19" y="0" transform="translate(0,390.70) scale(1.1502,1)">10</text>
<text font-family="Liberation Sans, sans-serif" font-size="11.7" fill="#000" stroke="#000" stroke-width="0.15" x="102.05" y="0" transform="translate(0,461.00) scale(1.1197,1)">5</text>
<text font-family="Liberation Sans, sans-serif" font-size="11.7" fill="#000" stroke="#000" stroke-width="0.15" x="26.69 34.01" y="0" transform="translate(0,333.30) scale(1.1556,1)">20</text>
<text font-family="Liberation Sans, sans-serif" font-size="11.7" fill="#000" stroke="#000" stroke-width="0.15" x="148.87 156.14" y="0" transform="translate(0,461.00) scale(1.1502,1)">10</text>
<text font-family="Liberation Sans, sans-serif" font-size="11.7" fill="#000" stroke="#000" stroke-width="0.15" x="26.82 34.04" y="0" transform="translate(0,275.89) scale(1.1548,1)">30</text>
<text font-family="Liberation Sans, sans-serif" font-size="11.7" fill="#000" stroke="#000" stroke-width="0.15" x="208.16 215.60" y="0" transform="translate(0,461.00) scale(1.1197,1)">15</text>
<text font-family="Liberation Sans, sans-serif" font-size="11.7" fill="#000" stroke="#000" stroke-width="0.15" x="26.33 33.35" y="0" transform="translate(0,218.49) scale(1.1765,1)">40</text>
<text font-family="Liberation Sans, sans-serif" font-size="11.7" fill="#000" stroke="#000" stroke-width="0.15" x="254.89 262.22" y="0" transform="translate(0,461.00) scale(1.1556,1)">20</text>
<text font-family="Liberation Sans, sans-serif" font-size="11.7" fill="#000" stroke="#000" stroke-width="0.15" x="26.95 34.23" y="0" transform="translate(0,161.09) scale(1.1490,1)">50</text>
<text font-family="Liberation Sans, sans-serif" font-size="11.7" fill="#000" stroke="#000" stroke-width="0.15" x="316.59 324.08" y="0" transform="translate(0,461.00) scale(1.1257,1)">25</text>
<text font-family="Liberation Sans, sans-serif" font-size="11.7" fill="#000" stroke="#000" stroke-width="0.15" x="325.85" y="0" transform="translate(0,461.00) scale(1.1780,1)">0</text>
<text font-family="Liberation Sans, sans-serif" font-size="11.7" fill="#000" stroke="#000" stroke-width="0.15" x="388.89 395.92 399.63 406.77" y="0" transform="translate(0,461.00) scale(1.1636,1)">0.05</text>
<text font-family="Liberation Sans, sans-serif" font-size="11.9" fill="#000" stroke="#000" stroke-width="0.15" x="119.11 126.32 128.67 131.86 135.05 138.31 145.50 145.50 156.30 165.30 172.86 176.76 184.58 188.81 191.92 199.09 199.09 209.80 213.63 221.41 226.45 234.30 238.51 245.44" y="0" transform="translate(0,476.60) scale(1.1415,1)">Filling Duration [Years]</text>
<text font-family="Liberation Sans, sans-serif" font-size="11.9" fill="#000" stroke="#000" stroke-width="0.15" x="356.45 363.00 369.92" y="0" transform="translate(0,476.60) scale(1.2568,1)">pdf</text>
<text font-family="Liberation Sans, sans-serif" font-size="12.4" fill="#000" stroke="#000" stroke-width="0.15" x="-411.03 -402.91 -395.32 -388.34 -380.64 -380.64 -372.92 -364.43 -356.96 -349.54 -342.61 -334.83 -334.83 -328.11 -316.70 -309.39 -305.09 -297.48 -297.48 -289.38 -280.15 -272.67 -268.70 -265.69 -258.94 -255.39 -255.39 -247.45 -243.07 -235.32 -226.91 -216.45 -212.36 -205.14 -199.83" y="0" transform="translate(22.40,0) rotate(-90) scale(0.9904,1)">Egypt Annual Water Deficit [BCM/yr]</text>
<text font-family="Liberation Sans, sans-serif" font-size="12.4" fill="#000" stroke="#000" stroke-width="0.15" x="-73.70 -66.88 -59.67" y="0" transform="translate(11.60,0) rotate(-90) scale(1.0753,1)">pdf</text>
<rect x="118" y="162.1" width="241" height="36.3" rx="2.8" ry="2.8" fill="#ebebeb" stroke="#151515" stroke-width="1.4"/>
<path d="M122.6,172.7 L129.7,172.7 M132.9,172.7 L140,172.7 M143.2,172.7 L150.3,172.7" stroke="#3f3f3f" stroke-width="1.8" fill="none"/>
<circle cx="136.9" cy="189.6" r="4.3" fill="#f6f6f6"/>
<circle cx="136.9" cy="189.6" r="3.2" fill="#000" fill-opacity="0.5" stroke="#000" stroke-opacity="0.42" stroke-width="0.9"/>
<text font-family="Liberation Sans, sans-serif" font-size="10.2" fill="#000" stroke="#000" stroke-width="0.15" x="128.56 134.68 140.17 147.83 153.92 157.38 160.49 163.66 166.48 169.94 169.94 176.12 176.12 185.41 185.41 195.43 201.41 207.47 213.35 216.39 222.37 222.37 231.43" y="0" transform="translate(0,176.00) scale(1.2449,1)">Power-fit: y = 114.98 x</text>
<text font-family="Liberation Sans, sans-serif" font-size="7.2" fill="#000" stroke="#000" stroke-width="0.15" x="242.08 247.02 251.22 253.33 257.59" y="0" transform="translate(0,171.60) scale(1.2197,1)">−1.14</text>
<text font-family="Liberation Sans, sans-serif" font-size="10.2" fill="#000" stroke="#000" stroke-width="0.15" x="138.85 146.47 153.02 160.21 160.21 170.70 176.95 179.00 181.79 184.57 187.45 193.73 193.73 202.81 209.43 215.14 221.38 227.23 234.06 237.90 240.65 246.66 246.66 254.91 263.15 269.70 273.20 278.86 285.39 294.80 300.80" y="0" transform="translate(0,192.30) scale(1.1577,1)">GERD Filling Scenarios Outcomes</text>
</svg>
</body></html>
